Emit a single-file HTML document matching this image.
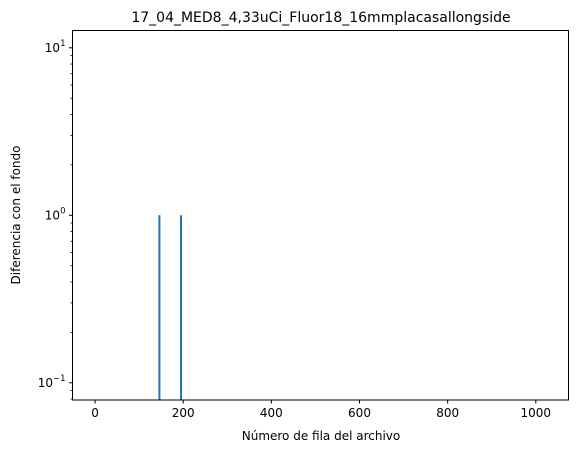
<!DOCTYPE html>
<html><head><meta charset="utf-8"><style>
body{margin:0;background:#fff;font-family:"Liberation Sans","DejaVu Sans",sans-serif}
text{font-family:"DejaVu Sans","Liberation Sans",sans-serif}
</style></head><body>
<svg id="c" width="578" height="453" xmlns="http://www.w3.org/2000/svg">
<rect width="578" height="453" fill="#fff"/>
<text x="321" y="22" font-size="14" text-anchor="middle">17_04_MED8_4,33uCi_Fluor18_16mmplacasallongside</text>
<text x="321" y="440" font-size="12" text-anchor="middle">Número de fila del archivo</text>
<text transform="translate(20,215) rotate(-90)" font-size="12" text-anchor="middle">Diferencia con el fondo</text>
<g id="g"></g>
<rect x="72.5" y="30.5" width="496" height="369.5" fill="none" stroke="#000" stroke-width="1"/>
</svg>
<script>
const spikeX=[146,195];
const spikeY=[1,1];
const xTicks=[0,200,400,600,800,1000];
const yDecades=[-1,0,1];
const L=72.5,R=568.5,T=30.5,B=400;
const xmin=-51.15,xmax=1074.15;
const X=v=>L+(v-xmin)/(xmax-xmin)*(R-L);
const Y=v=>215.3-Math.log10(v)*167.5;
const g=document.getElementById('g');
const ns='http://www.w3.org/2000/svg';
function mk(t,a){const e=document.createElementNS(ns,t);for(const k in a)e.setAttribute(k,a[k]);g.appendChild(e);return e;}
xTicks.forEach(v=>{
 const l=mk('line',{x1:X(v),x2:X(v),y1:B,y2:B+3.5,stroke:'#000'});
 
 
 const t=mk('text',{x:X(v),y:B+17,'font-size':12,'text-anchor':'middle'});t.textContent=v;
 
 
});
yDecades.forEach(d=>{
 const y=Y(Math.pow(10,d));
 const l=mk('line',{x1:L-3.5,x2:L,y1:y,y2:y,stroke:'#000'});
 
 
 const t=mk('text',{x:L-7,y:y+4,'font-size':12,'text-anchor':'end'});
 
 
 t.innerHTML='10<tspan dy="-6" font-size="8.5">'+(d<0?'−'+(-d):d)+'</tspan>';
 for(let m=2;m<10;m++){const v=m*Math.pow(10,d);const yy=Y(v);if(yy<T||yy>B)continue;
  const ml=mk('line',{x1:L-2,x2:L,y1:yy,y2:yy,stroke:'#000','stroke-width':0.8});
  
  }
});
for(let m=8;m<10;m++){const yy=Y(m*0.01);if(yy<=B){const ml=mk('line',{x1:L-2,x2:L,y1:yy,y2:yy,stroke:'#000','stroke-width':0.8});
 
 }}
spikeX.forEach((v,i)=>{
 const l=mk('line',{x1:X(v),x2:X(v),y1:B,y2:Y(spikeY[i]),stroke:'#1f77b4','stroke-width':2});
 
 
});
</script>
</body></html>
